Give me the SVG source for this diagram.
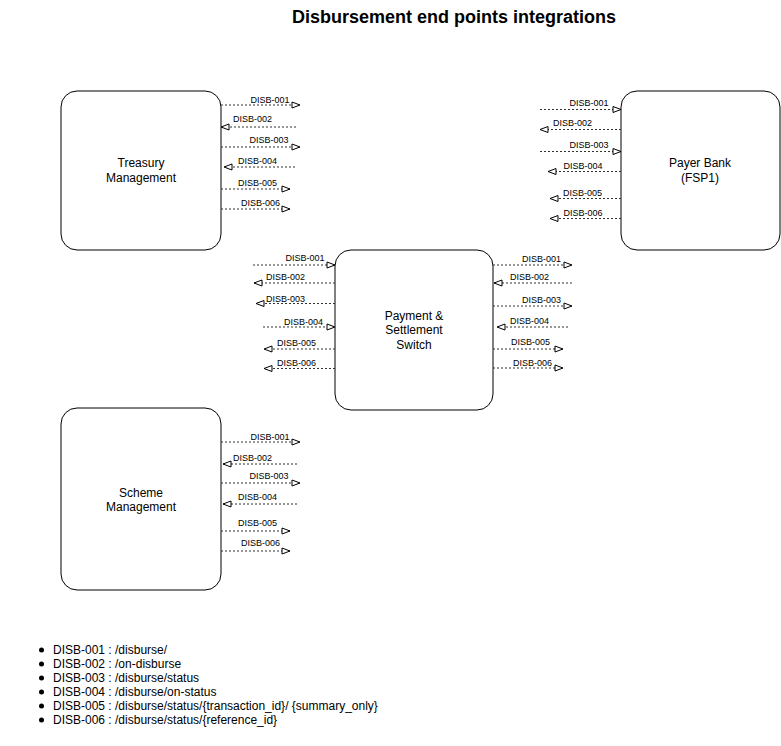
<svg xmlns="http://www.w3.org/2000/svg" width="781" height="746" viewBox="0 0 781 746">
<style>
.box{fill:#fff;stroke:#000;stroke-width:1}
.nl{font-family:"Liberation Sans",Arial,sans-serif;font-size:12px;fill:#000;text-anchor:middle}
.el{font-family:"Liberation Sans",Arial,sans-serif;font-size:9px;fill:#000;text-anchor:middle}
.c{stroke:#333;stroke-width:1;stroke-dasharray:2 2;fill:none;marker-end:url(#oa)}
.li{font-family:"Liberation Sans",Arial,sans-serif;font-size:12px;fill:#000}
.title{font-family:"Liberation Sans",Arial,sans-serif;font-size:18px;font-weight:bold;fill:#000;text-anchor:middle}
</style>
<defs>
<marker id="oa" markerUnits="userSpaceOnUse" viewBox="-1 -1 10 8" markerWidth="10" markerHeight="8" refX="8" refY="3" orient="auto">
<path d="M0,0 L8,3 L0,6 Z" fill="#fff" stroke="#000" stroke-width="1"/>
</marker>
</defs>
<rect width="781" height="746" fill="#fff"/>
<text class="title" x="454" y="23">Disbursement end points integrations</text>

<g id="treasury">
<rect class="box" x="61" y="91" width="160" height="159" rx="16"/>
<text class="nl" x="141" y="167">Treasury</text>
<text class="nl" x="141" y="182">Management</text>
</g>
<g id="payer-bank">
<rect class="box" x="621" y="91" width="159" height="159" rx="16"/>
<text class="nl" x="700" y="167">Payer Bank</text>
<text class="nl" x="700" y="182">(FSP1)</text>
</g>
<g id="switch">
<rect class="box" x="335" y="250" width="158" height="160" rx="16"/>
<text class="nl" x="414" y="320">Payment &amp;</text>
<text class="nl" x="414" y="334">Settlement</text>
<text class="nl" x="414" y="349">Switch</text>
</g>
<g id="scheme">
<rect class="box" x="61" y="408" width="160" height="182" rx="16"/>
<text class="nl" x="141" y="497">Scheme</text>
<text class="nl" x="141" y="511">Management</text>
</g>

<g id="connectors">
<!-- Treasury -->
<path class="c" d="M221,105 H300"/>
<path class="c" d="M296,127 H221"/>
<path class="c" d="M221,147 H300"/>
<path class="c" d="M295,167 H224"/>
<path class="c" d="M221,189 H290"/>
<path class="c" d="M221,209 H290"/>
<!-- Payer Bank -->
<path class="c" d="M540,109.5 H621"/>
<path class="c" d="M621,129.5 H540"/>
<path class="c" d="M540,151.5 H621"/>
<path class="c" d="M621,171.5 H548"/>
<path class="c" d="M621,198.5 H550"/>
<path class="c" d="M621,218.5 H550"/>
<!-- Switch left -->
<path class="c" d="M253,265 H335"/>
<path class="c" d="M335,283 H254"/>
<path class="c" d="M335,303.5 H256"/>
<path class="c" d="M263,327 H335"/>
<path class="c" d="M335,349 H264"/>
<path class="c" d="M335,368.5 H264"/>
<!-- Switch right -->
<path class="c" d="M493,265 H572"/>
<path class="c" d="M572,283 H494"/>
<path class="c" d="M493,306 H572"/>
<path class="c" d="M568,327 H497"/>
<path class="c" d="M493,349 H563"/>
<path class="c" d="M493,368 H563"/>
<!-- Scheme -->
<path class="c" d="M221,442 H300"/>
<path class="c" d="M297,464 H223"/>
<path class="c" d="M221,483 H300"/>
<path class="c" d="M297,504 H223"/>
<path class="c" d="M221,531 H290"/>
<path class="c" d="M221,551 H290"/>

<text class="el" x="270" y="103">DISB-001</text>
<text class="el" x="252.5" y="122">DISB-002</text>
<text class="el" x="269" y="143">DISB-003</text>
<text class="el" x="257.5" y="164">DISB-004</text>
<text class="el" x="257.5" y="186">DISB-005</text>
<text class="el" x="260.5" y="206">DISB-006</text>

<text class="el" x="589" y="106">DISB-001</text>
<text class="el" x="572.5" y="126">DISB-002</text>
<text class="el" x="589" y="148">DISB-003</text>
<text class="el" x="583" y="169">DISB-004</text>
<text class="el" x="582.5" y="196">DISB-005</text>
<text class="el" x="583" y="216">DISB-006</text>

<text class="el" x="305" y="261">DISB-001</text>
<text class="el" x="285.5" y="280">DISB-002</text>
<text class="el" x="285.5" y="302">DISB-003</text>
<text class="el" x="303.5" y="325">DISB-004</text>
<text class="el" x="296.5" y="346">DISB-005</text>
<text class="el" x="296.5" y="366">DISB-006</text>

<text class="el" x="541.5" y="262">DISB-001</text>
<text class="el" x="529.5" y="280">DISB-002</text>
<text class="el" x="541.5" y="303">DISB-003</text>
<text class="el" x="529.5" y="324">DISB-004</text>
<text class="el" x="530.5" y="345">DISB-005</text>
<text class="el" x="532.5" y="366">DISB-006</text>

<text class="el" x="270" y="440">DISB-001</text>
<text class="el" x="252.5" y="461">DISB-002</text>
<text class="el" x="269" y="479">DISB-003</text>
<text class="el" x="257.5" y="500">DISB-004</text>
<text class="el" x="257.5" y="526">DISB-005</text>
<text class="el" x="260.5" y="546">DISB-006</text>
</g>

<g id="legend">
<circle cx="41.5" cy="650" r="2.5" fill="#000"/>
<circle cx="41.5" cy="664" r="2.5" fill="#000"/>
<circle cx="41.5" cy="678" r="2.5" fill="#000"/>
<circle cx="41.5" cy="692" r="2.5" fill="#000"/>
<circle cx="41.5" cy="706" r="2.5" fill="#000"/>
<circle cx="41.5" cy="720" r="2.5" fill="#000"/>
<text class="li" x="53" y="654">DISB-001 : /disburse/</text>
<text class="li" x="53" y="668">DISB-002 : /on-disburse</text>
<text class="li" x="53" y="682">DISB-003 : /disburse/status</text>
<text class="li" x="53" y="696">DISB-004 : /disburse/on-status</text>
<text class="li" x="53" y="710">DISB-005 : /disburse/status/{transaction_id}/ {summary_only}</text>
<text class="li" x="53" y="724">DISB-006 : /disburse/status/{reference_id}</text>
</g>
</svg>
